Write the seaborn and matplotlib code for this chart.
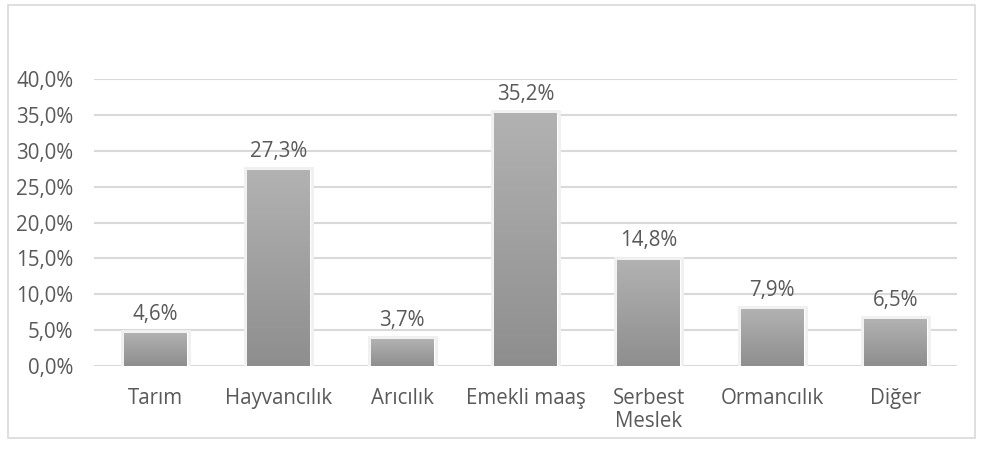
import numpy as np
import pandas as pd
import seaborn as sns
import matplotlib.pyplot as plt
from matplotlib.patches import Rectangle
import matplotlib.patheffects as pe

# chart data
categories = ["Tarım", "Hayvancılık", "Arıcılık", "Emekli maaş", "Serbest\nMeslek", "Ormancılık", "Diğer"]
values = [4.6, 27.3, 3.7, 35.2, 14.8, 7.9, 6.5]
yticks = [0, 5, 10, 15, 20, 25, 30, 35, 40]

df = pd.DataFrame({"kategori": categories, "oran": values})

sns.set_style("white")
plt.rcParams['font.family'] = ['Open Sans', 'DejaVu Sans']
text_color = '#595959'
fs = 14.8

fig = plt.figure(figsize=(9.83, 4.59), dpi=100)
ax = fig.add_axes([0.0956, 0.2026, 0.878, 0.6253])

sns.barplot(data=df, x="kategori", y="oran", color="#a0a0a0", width=0.51,
            saturation=1, ax=ax, zorder=3)

ax.set_ylim(0, 40)
ax.set_xlim(-0.5, len(categories) - 0.5)
ax.set_yticks(yticks)
ax.set_yticklabels([f"{t:.1f}%".replace(".", ",") for t in yticks])
ax.yaxis.grid(True, color='#d9d9d9', linewidth=1.5, zorder=0)
ax.set_axisbelow(True)
for s in ax.spines.values():
    s.set_visible(False)
ax.tick_params(axis='both', length=0, labelsize=fs, labelcolor=text_color)
ax.tick_params(axis='y', pad=15)
ax.tick_params(axis='x', pad=16)
for lbl in ax.get_xticklabels():
    lbl.set_linespacing(1.1)
ax.set_xlabel("")
ax.set_ylabel("")

# gradient fill + soft shadow on the bars
grad = np.linspace(0, 1, 256).reshape(-1, 1)
for bar in ax.patches:
    bar.set_path_effects([pe.withStroke(linewidth=5, foreground='#f0f0f0')])
    x0, w, h = bar.get_x(), bar.get_width(), bar.get_height()
    im = ax.imshow(grad, extent=[x0, x0 + w, 0, h], aspect='auto',
                   cmap=sns.blend_palette(["#8e8e8e", "#b2b2b2"], as_cmap=True),
                   origin='lower', zorder=4)
    im.set_clip_path(bar)

# value labels
for i, v in enumerate(values):
    ax.annotate(f"{v:.1f}%".replace(".", ","), (i, v), xytext=(0, 6),
                textcoords='offset points', ha='center', va='bottom',
                fontsize=fs, color=text_color)

ax.set_xlim(-0.5, len(categories) - 0.5)
ax.set_ylim(0, 40)

# chart border
fig.patches.append(Rectangle((0.008, 0.045), 0.984, 0.944, transform=fig.transFigure,
                             fill=False, edgecolor='#d9d9d9', linewidth=1.2))

fig.savefig("out.png", dpi=100)
